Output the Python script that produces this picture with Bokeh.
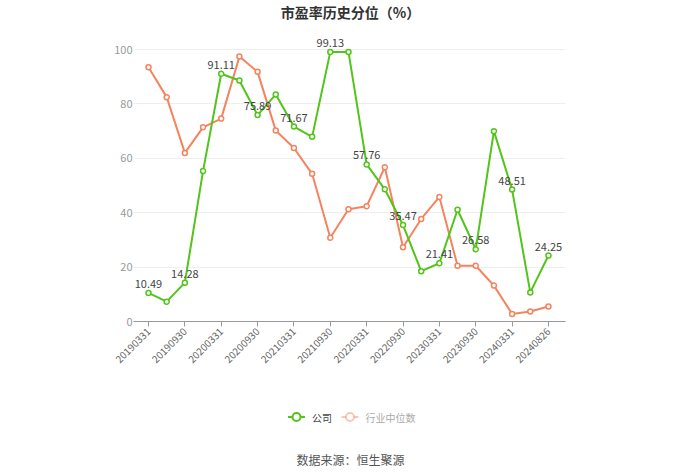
from bokeh.plotting import figure
from bokeh.layouts import column
from bokeh.models import (Range1d, FixedTicker, Label, ColumnDataSource, LabelSet)
from bokeh.core.properties import value
from bokeh.embed import file_html
from bokeh.resources import INLINE
import math

dates = ["20190331", "20190630", "20190930", "20191231", "20200331", "20200630",
         "20200930", "20201231", "20210331", "20210630", "20210930", "20211231",
         "20220331", "20220630", "20220930", "20221231", "20230331", "20230630",
         "20230930", "20231231", "20240331", "20240630", "20240826"]
company = [10.49, 7.3, 14.28, 55.3, 91.11, 88.6, 75.89, 83.5, 71.67, 67.9, 99.13, 99.13,
           57.76, 48.6, 35.47, 18.5, 21.41, 41.1, 26.58, 70.0, 48.51, 10.7, 24.25]
industry = [93.5, 82.5, 62.0, 71.4, 74.6, 97.4, 91.8, 70.2, 63.8, 54.3, 30.8, 41.3,
            42.4, 56.7, 27.3, 37.7, 45.8, 20.5, 20.5, 13.2, 2.8, 3.7, 5.5]
y_ticks = [0, 20, 40, 60, 80, 100]
title_text = "市盈率历史分位（%）"
legend_names = ["公司", "行业中位数"]
source_text = "数据来源：恒生聚源"

GREEN = "#52C41A"
ORANGE = "#F4845F"
FONT = "Noto Sans CJK SC"

FRAME_L, FRAME_R = 133, 565   # pixel extent of the plotting frame (shared by the column)


def blank(h):
    f = figure(width=700, height=h, output_backend="svg", toolbar_location=None,
               x_range=Range1d(FRAME_L, FRAME_R), y_range=Range1d(0, h), min_border=0)
    f.axis.visible = False
    f.grid.grid_line_color = None
    f.outline_line_color = None
    return f


# ---- title
p_top = blank(26)
p_top.add_layout(Label(x=350, y=15, text=title_text, text_align="center",
                       text_baseline="middle", text_font=FONT, text_font_size="14px",
                       text_font_style="bold", text_color="#333333"))

# ---- main chart
idx = list(range(len(dates)))
src = ColumnDataSource(dict(x=idx, c=company, i=industry,
                            lab=[("%.2f" % v) if k % 2 == 0 else "" for k, v in enumerate(company)]))

p = figure(width=700, height=364, output_backend="svg", toolbar_location=None,
           x_range=Range1d(-0.825, 22.937), y_range=Range1d(0, 107),
           min_border_left=FRAME_L, min_border_right=700 - FRAME_R, min_border_top=4,
           min_border_bottom=69)
p.outline_line_color = None

p.xaxis.ticker = FixedTicker(ticks=idx[::2])
p.xaxis.major_label_overrides = {k: dates[k] for k in idx[::2]}
p.xaxis.major_label_orientation = math.pi / 4
p.xaxis.major_label_text_font = FONT
p.xaxis.major_label_text_font_size = "10px"
p.xaxis.major_label_text_color = "#666666"
p.xaxis.major_label_standoff = 3
p.xaxis.axis_line_color = "#999999"
p.xaxis.major_tick_line_color = "#999999"
p.xaxis.major_tick_in = 0
p.xaxis.major_tick_out = 5
p.xaxis.minor_tick_line_color = None
p.xgrid.grid_line_color = None

p.yaxis.ticker = FixedTicker(ticks=y_ticks)
p.yaxis.axis_line_color = None
p.yaxis.major_tick_line_color = None
p.yaxis.minor_tick_line_color = None
p.yaxis.major_label_text_font = FONT
p.yaxis.major_label_text_font_size = "11px"
p.yaxis.major_label_text_color = "#999999"
p.yaxis.major_label_standoff = -5
p.ygrid.ticker = FixedTicker(ticks=y_ticks)
p.ygrid.grid_line_color = "#EEEEEE"

p.line("x", "i", source=src, line_color=ORANGE, line_width=2)
p.scatter("x", "i", source=src, size=5, fill_color="white", line_color=ORANGE, line_width=1.5)
p.line("x", "c", source=src, line_color=GREEN, line_width=2)
p.scatter("x", "c", source=src, size=5, fill_color="white", line_color=GREEN, line_width=1.5)

p.add_layout(LabelSet(x="x", y="c", text="lab", source=src, y_offset=5,
                      text_align="center", text_baseline="bottom",
                      text_font=value(FONT), text_font_size=value("11px"),
                      text_color="#444444"))

# ---- legend + source (drawn in a pixel-space strip)
p_bot = blank(84)
ly = 57.5
items = [(287.5, GREEN, 1.0, "#444444"), (341.0, ORANGE, 0.45, "#AAAAAA")]
for (x0, col, alpha, tcol), name in zip(items, legend_names):
    p_bot.segment(x0=[x0], y0=[ly], x1=[x0 + 17], y1=[ly], line_color=col,
                  line_width=2, line_alpha=alpha)
    p_bot.scatter([x0 + 8.5], [ly], size=8, fill_color="white", line_color=col,
                  line_width=2, line_alpha=alpha)
    p_bot.text([x0 + 24], [ly], text=[name], text_align="left", text_baseline="middle",
               text_font=value(FONT), text_font_size=value("10px"), text_color=tcol)

p_bot.add_layout(Label(x=350, y=15, text=source_text, text_align="center",
                       text_baseline="middle", text_font=FONT, text_font_size="12px",
                       text_color="#555555"))

layout = column(p_top, p, p_bot, spacing=0)
open("out.html", "w").write(file_html(layout, INLINE))
